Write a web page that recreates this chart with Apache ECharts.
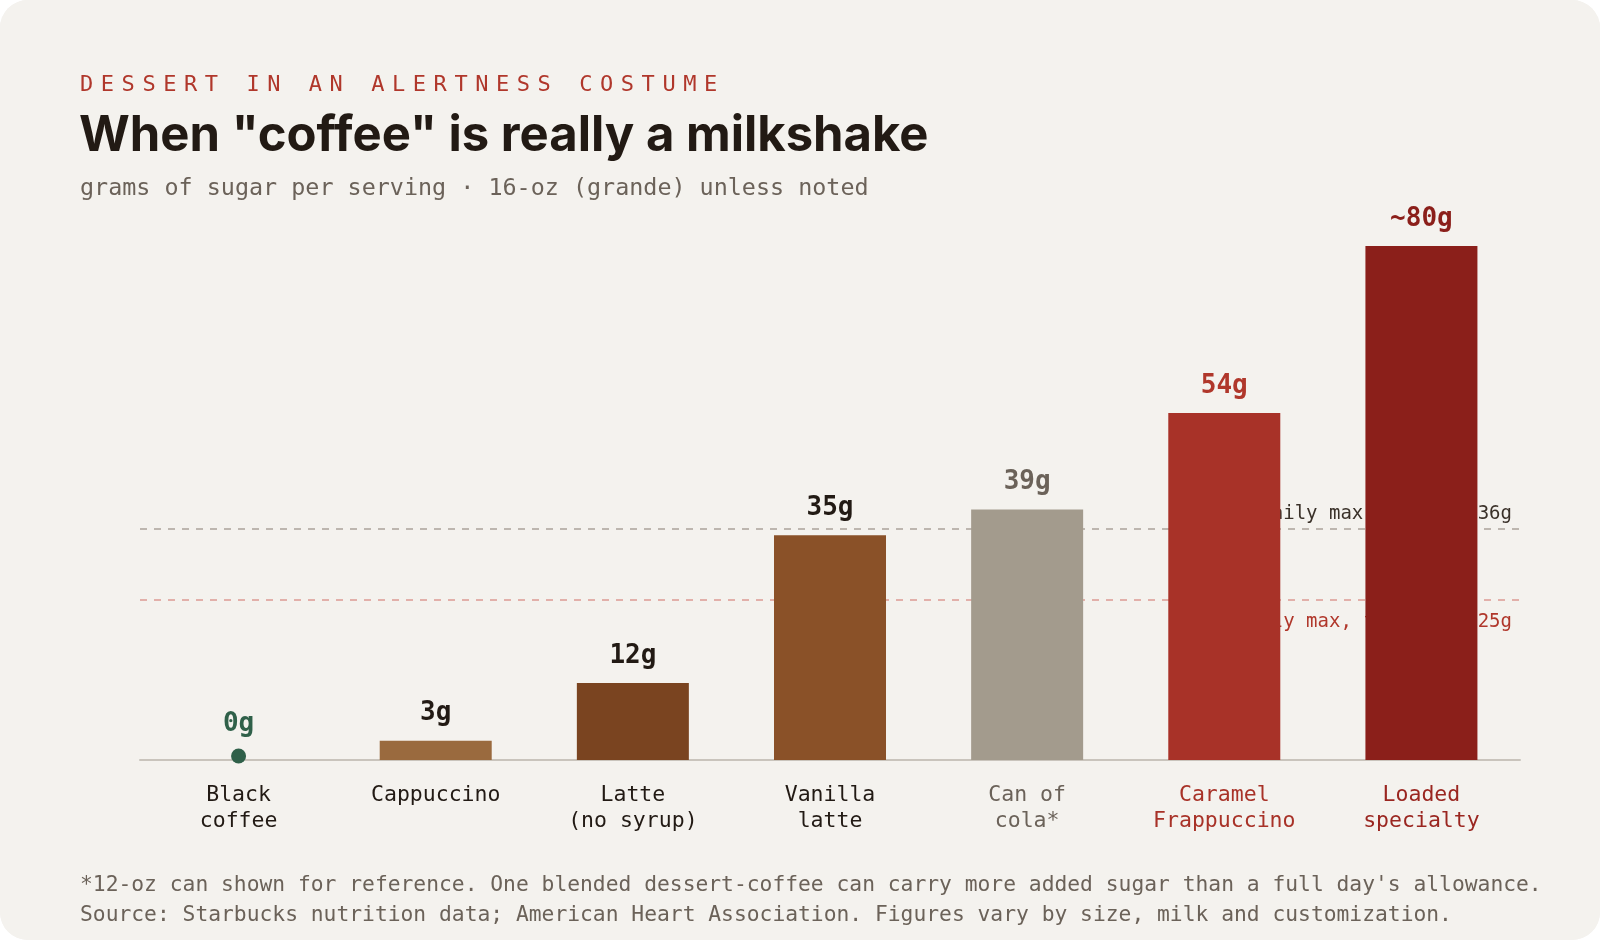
<!DOCTYPE html>
<html>
<head>
<meta charset="utf-8">
<script src="https://cdn.jsdelivr.net/npm/echarts@6/dist/echarts.min.js"></script>
<style>
html, body { margin: 0; padding: 0; background: #ffffff; }
#chart { width: 1600px; height: 940px; border-radius: 28px; overflow: hidden; background: #f4f2ee; }
</style>
</head>
<body>
<div id="chart"></div>
<script>
// data
const categories = ['Black\ncoffee', 'Cappuccino', 'Latte\n(no syrup)', 'Vanilla\nlatte', 'Can of\ncola*', 'Caramel\nFrappuccino', 'Loaded\nspecialty'];
const sugar = [0, 3, 12, 35, 39, 54, 80];
const valueLabels = ['0g', '3g', '12g', '35g', '39g', '54g', '~80g'];
const limits = [36, 25];
const limitLabels = ['AHA daily max for men: 36g', 'AHA daily max, for women 25g'];

// colours
const barColors = ['#2f6049', '#9a6a3e', '#7a4420', '#8a5128', '#a39b8d', '#a83228', '#8b1f1a'];
const labelColors = ['#2f6049', '#221a14', '#221a14', '#221a14', '#6b6259', '#b0372b', '#8b1f1a'];
const nameColors = ['#221a14', '#221a14', '#221a14', '#221a14', '#6b6259', '#a83228', '#9a2620'];

const KICKER = 'DESSERT IN AN ALERTNESS COSTUME';
const TITLE = 'When "coffee" is really a milkshake';
const SUBTITLE = 'grams of sugar per serving · 16-oz (grande) unless noted';
const FOOTER = "*12-oz can shown for reference. One blended dessert-coffee can carry more added sugar than a full day's allowance.\nSource: Starbucks nutrition data; American Heart Association. Figures vary by size, milk and customization.";

const MONO = '"DejaVu Sans Mono", "Liberation Mono", monospace';

const myChart = echarts.init(document.getElementById('chart'));

// kicker is letter-spaced: each char in a fixed-width rich token
const kickerText = KICKER.split('').map(c => '{k|' + c + '}').join('');

const option = {
  backgroundColor: '#f4f2ee',
  title: [
    {
      text: kickerText,
      left: 80,
      top: 72,
      padding: 0,
      textStyle: {
        rich: {
          k: { width: 20.8, fontFamily: MONO, fontWeight: 'normal', fontSize: 22, color: '#b0372b', lineHeight: 26 }
        }
      }
    },
    {
      text: TITLE,
      left: 79,
      top: 109,
      padding: 0,
      textStyle: { fontFamily: 'Inter', fontWeight: 700, fontSize: 49, color: '#221a14', lineHeight: 54 }
    },
    {
      text: SUBTITLE,
      left: 80,
      top: 176,
      padding: 0,
      textStyle: { fontFamily: MONO, fontWeight: 'normal', fontSize: 23.4, color: '#6b6259', lineHeight: 26 }
    },
    {
      text: FOOTER,
      left: 80,
      top: 871,
      padding: 0,
      textStyle: { fontFamily: MONO, fontWeight: 'normal', fontSize: 21.3, color: '#6b6259', lineHeight: 29.5 }
    }
  ],
  grid: {
    left: 140,
    right: 80,
    top: 246,
    bottom: 180,
    containLabel: false
  },
  xAxis: {
    type: 'category',
    data: categories,
    axisLine: { lineStyle: { color: '#c9c4bc', width: 2 } },
    axisTick: { show: false },
    axisLabel: {
      interval: 0,
      margin: 22,
      fontFamily: MONO,
      fontSize: 21.5,
      lineHeight: 26.5,
      color: (value, index) => nameColors[index]
    }
  },
  yAxis: {
    type: 'value',
    min: 0,
    max: 80,
    show: false
  },
  series: [
    {
      // reference lines, drawn under the bars
      type: 'line',
      data: [],
      markLine: {
        silent: true,
        symbol: 'none',
        z: 1,
        data: [
          {
            yAxis: limits[0],
            lineStyle: { color: '#aaa39b', type: [7, 7], width: 1.5 },
            label: {
              position: 'insideEndTop',
              distance: [8, 5],
              formatter: limitLabels[0],
              fontFamily: MONO,
              fontSize: 19,
              color: '#3a3129'
            }
          },
          {
            yAxis: limits[1],
            lineStyle: { color: '#dc9a94', type: [7, 7], width: 1.5 },
            label: {
              position: 'insideEndBottom',
              distance: [8, 13],
              formatter: limitLabels[1],
              fontFamily: MONO,
              fontSize: 19,
              color: '#b0372b'
            }
          }
        ]
      }
    },
    {
      type: 'bar',
      barWidth: 112,
      z: 2,
      data: sugar.map((v, i) => ({
        value: v,
        itemStyle: { color: barColors[i] },
        label: { show: v > 0, color: labelColors[i] }
      })),
      label: {
        position: 'top',
        distance: 14,
        fontFamily: MONO,
        fontWeight: 'bold',
        fontSize: 26,
        formatter: p => valueLabels[p.dataIndex]
      }
    },
    {
      // zero-sugar marker
      type: 'scatter',
      z: 3,
      symbolSize: 15,
      symbolOffset: [0, -4],
      itemStyle: { color: '#2f6049', opacity: 1 },
      data: sugar.map(v => (v === 0 ? v : '-')),
      label: {
        show: true,
        position: 'top',
        distance: 11,
        fontFamily: MONO,
        fontWeight: 'bold',
        fontSize: 26,
        color: labelColors[0],
        formatter: p => valueLabels[p.dataIndex]
      }
    }
  ]
};

myChart.setOption(option);
</script>
</body>
</html>
